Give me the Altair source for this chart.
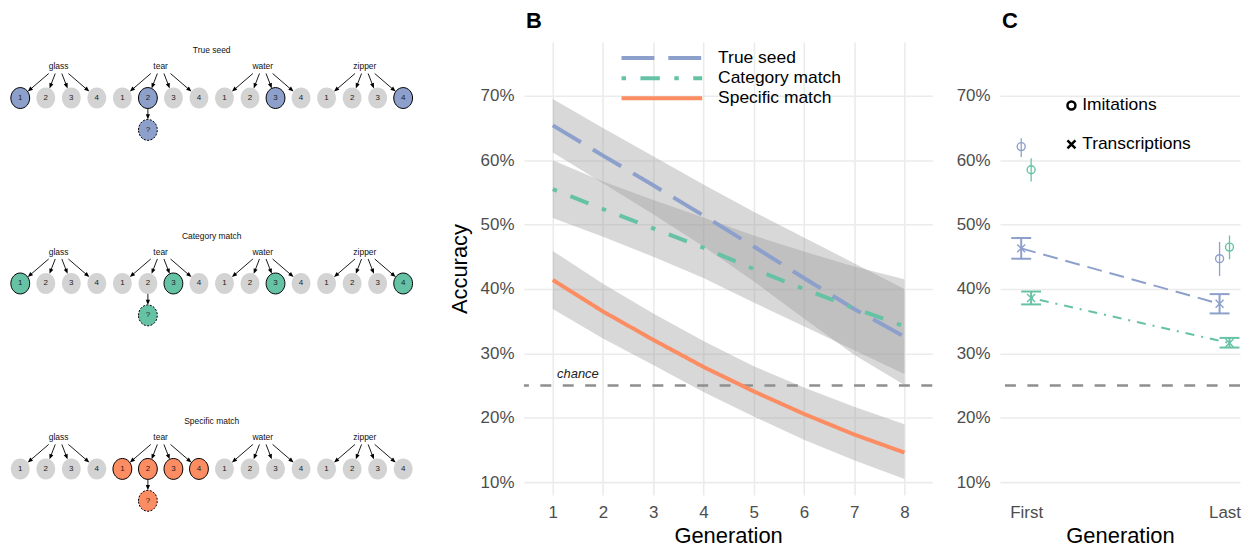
import math
import altair as alt
import pandas as pd

# ---------------- data: panel A (schematic) ----------------
panel_names = ["True seed", "Category match", "Specific match"]
seed_words = ["glass", "tear", "water", "zipper"]
choice_labels = ["1", "2", "3", "4"]
true_seed_picks = [(0, 0), (1, 1), (2, 2), (3, 3)]
category_picks = [(0, 0), (1, 2), (2, 2), (3, 3)]
specific_picks = [(1, 0), (1, 1), (1, 2), (1, 3)]
imitated_word = 1
imitated_choice = 1
question_label = "?"

# ---------------- data: panel B ----------------
generations = [1, 2, 3, 4, 5, 6, 7, 8]
true_seed_fit = [65.4, 60.7, 56.1, 51.4, 46.6, 41.7, 36.9, 32.6]
true_seed_lo = [61.2, 56.4, 51.6, 46.6, 41.2, 35.4, 29.8, 25.1]
true_seed_hi = [69.5, 65.0, 60.6, 56.2, 52.0, 48.0, 44.0, 40.0]
category_fit = [55.5, 52.4, 49.4, 46.4, 43.1, 40.0, 37.0, 34.2]
category_lo = [51.0, 48.1, 45.0, 41.7, 37.9, 34.2, 30.5, 26.8]
category_hi = [60.0, 56.7, 53.8, 51.1, 48.3, 45.8, 43.5, 41.5]
specific_fit = [41.4, 36.5, 32.1, 27.9, 24.1, 20.6, 17.4, 14.6]
specific_lo = [36.9, 32.3, 28.2, 24.0, 20.2, 16.6, 13.4, 10.5]
specific_hi = [45.9, 40.8, 36.2, 31.9, 28.0, 24.7, 21.7, 19.0]
chance_level = 25
chance_text = "chance"
chance_text_gen = 1.5
pct_ticks = [10, 20, 30, 40, 50, 60, 70]

# ---------------- data: panel C ----------------
c_gen = [1, 1, 2, 2]
c_series = ["True seed", "Category match", "True seed", "Category match"]
imit_mean = [62.1, 58.5, 44.7, 46.5]
imit_lo = [60.5, 56.7, 42.0, 44.6]
imit_hi = [63.4, 60.3, 47.3, 48.3]
trans_mean = [46.3, 38.6, 37.7, 31.6]
trans_lo = [44.7, 37.6, 36.2, 30.9]
trans_hi = [47.9, 39.6, 39.2, 32.4]
type_names = ["Imitations", "Transcriptions"]

# ---------------- styling / layout ----------------
FONT = "Liberation Sans"
series_colors = ["#8DA0CB", "#66C2A5", "#FC8D62"]
NODE_GRAY = "#D3D3D3"
PLOT_H = 455
A_W, B_W, C_W = 447, 410, 241
ELLIPSE = "M-0.9,0 A0.9,1 0 1,1 0.9,0 A0.9,1 0 1,1 -0.9,0 Z"
HEAD = "M0,-1 L-0.6,0.5 L0.6,0.5 Z"
XPATH = "M-1,-1 L1,1 M1,-1 L-1,1"
TITLE_OFFSET = -13

NODE_STEP = 25.63
X_START = -0.363
ROW_TOP = [8.3, 194.5, 380.7]
WORD_DY, NODE_DY, Q_DY = 16, 48, 80
RX, RY = 9.5, 10.5
ARROW_SPREAD = 6.6
ARROW_START_DY = 23.4
HEAD_HALF = 3.5


def ux_to_px(u):
    return (u - X_START) * NODE_STEP


def px_to_ux(p):
    return p / NODE_STEP + X_START


picks = {"True seed": true_seed_picks, "Category match": category_picks,
         "Specific match": specific_picks}

node_rows, q_rows, word_rows, title_rows, arrow_rows, head_rows = [], [], [], [], [], []


def add_arrow(sx, sy, tx, ty):
    dx, dy = tx - sx, ty - sy
    L = math.hypot(dx, dy)
    ux, uy = dx / L, dy / L
    hx, hy = tx - ux * HEAD_HALF, ty - uy * HEAD_HALF
    ang = math.degrees(math.atan2(ux, -uy)) % 360
    arrow_rows.append({"x": px_to_ux(sx), "y": sy, "x2": px_to_ux(hx), "y2": hy})
    head_rows.append({"x": px_to_ux(hx), "y": hy, "ang": ang})


for p, name in enumerate(panel_names):
    top = ROW_TOP[p]
    title_rows.append({"x": 7.5, "y": top, "text": name})
    for w, word in enumerate(seed_words):
        wx = 4 * w + 1.5
        word_rows.append({"x": wx, "y": top + WORD_DY, "text": word})
        for c, lab in enumerate(choice_labels):
            nx = 4 * w + c
            hl = (w, c) in picks[name]
            node_rows.append({"x": nx, "y": top + NODE_DY, "label": lab,
                              "status": name if hl else "none",
                              "hl": "yes" if hl else "no"})
            sx = ux_to_px(wx) + (c - 1.5) * ARROW_SPREAD
            sy = top + ARROW_START_DY
            cx, cy = ux_to_px(nx), top + NODE_DY
            vx, vy = sx - cx, sy - cy
            t = 1 / math.sqrt((vx / RX) ** 2 + (vy / RY) ** 2)
            add_arrow(sx, sy, cx + vx * t, cy + vy * t)
    qx = 4 * imitated_word + imitated_choice
    q_rows.append({"x": qx, "y": top + Q_DY, "label": question_label, "status": name})
    add_arrow(ux_to_px(qx), top + NODE_DY + RY, ux_to_px(qx), top + Q_DY - RY)

xA = alt.X("x:Q", scale=alt.Scale(domain=[X_START, px_to_ux(A_W)], nice=False, zero=False), axis=None)
yA = alt.Y("y:Q", scale=alt.Scale(domain=[0, PLOT_H], nice=False, zero=False, reverse=True), axis=None)
fillA = alt.Fill("status:N", scale=alt.Scale(domain=panel_names + ["none"], range=series_colors + [NODE_GRAY]), legend=None)

a_arrows = alt.Chart(pd.DataFrame(arrow_rows)).mark_rule(color="black", strokeWidth=0.9).encode(
    x=xA, y=yA, x2="x2:Q", y2="y2:Q")
a_heads = alt.Chart(pd.DataFrame(head_rows)).mark_point(
    shape=HEAD, size=(2 * HEAD_HALF) ** 2, filled=True, color="black", opacity=1, strokeWidth=0).encode(
    x=xA, y=yA, angle=alt.Angle("ang:Q", scale=None))
a_nodes = alt.Chart(pd.DataFrame(node_rows)).mark_point(
    shape=ELLIPSE, size=441, filled=True, opacity=1, stroke="black", strokeWidth=1).encode(
    x=xA, y=yA, fill=fillA,
    strokeOpacity=alt.StrokeOpacity("hl:N", scale=alt.Scale(domain=["yes", "no"], range=[1, 0]), legend=None))
a_q = alt.Chart(pd.DataFrame(q_rows)).mark_point(
    shape=ELLIPSE, size=441, filled=True, opacity=1, stroke="black", strokeWidth=1, strokeDash=[2, 1.5]).encode(
    x=xA, y=yA, fill=fillA)
a_node_text = alt.Chart(pd.DataFrame(node_rows + q_rows)).mark_text(
    font=FONT, fontSize=8, color="#222222").encode(x=xA, y=yA, text="label:N")
a_words = alt.Chart(pd.DataFrame(word_rows)).mark_text(
    font=FONT, fontSize=8.5, color="#111111").encode(x=xA, y=yA, text="text:N")
a_titles = alt.Chart(pd.DataFrame(title_rows)).mark_text(
    font=FONT, fontSize=8.5, color="#111111").encode(x=xA, y=yA, text="text:N")

panelA = alt.layer(a_arrows, a_heads, a_nodes, a_q, a_node_text, a_words, a_titles).properties(
    width=A_W, height=PLOT_H)

# ---------------- Panel B ----------------
b_rows = []
for name, fit, lo, hi in zip(panel_names,
                             [true_seed_fit, category_fit, specific_fit],
                             [true_seed_lo, category_lo, specific_lo],
                             [true_seed_hi, category_hi, specific_hi]):
    for g, f, l, h in zip(generations, fit, lo, hi):
        b_rows.append({"gen": g, "series": name, "fit": f, "lo": l, "hi": h})
b_df = pd.DataFrame(b_rows)

y_scale = alt.Scale(domain=[7.99, 78.35], nice=False, zero=False)
y_axis_B = alt.Axis(values=pct_ticks, labelExpr="datum.value + '%'", title="Accuracy", grid=True,
                    labelPadding=10, titlePadding=9)
xB = alt.X("gen:Q", scale=alt.Scale(domain=[0.425, 8.555], nice=False, zero=False),
           axis=alt.Axis(values=generations, format="d", title="Generation", grid=True,
                         labelPadding=9, titlePadding=6))

legB = alt.Legend(orient="none", legendX=96, legendY=7.7, title=None, symbolType="stroke",
                  symbolSize=6561, symbolStrokeWidth=4, clipHeight=17, rowPadding=2.2,
                  labelFontSize=17.5, labelColor="black", labelOffset=14, padding=0, labelFont=FONT)

b_ribbons = alt.Chart(b_df).mark_area(color="#999999", opacity=0.38).encode(
    x=xB, y=alt.Y("lo:Q", scale=y_scale, axis=y_axis_B), y2="hi:Q", detail="series:N")
b_lines = alt.Chart(b_df).mark_line(strokeWidth=4).encode(
    x=xB, y=alt.Y("fit:Q", scale=y_scale, axis=y_axis_B),
    color=alt.Color("series:N", scale=alt.Scale(domain=panel_names, range=series_colors), legend=legB),
    strokeDash=alt.StrokeDash("series:N", scale=alt.Scale(
        domain=panel_names, range=[[33, 14], [4.5, 14.5, 19.5, 14.5], [1, 0]]), legend=legB))
chance_df = pd.DataFrame({"level": [chance_level], "gen": [chance_text_gen], "text": [chance_text]})
b_chance = alt.Chart(chance_df).mark_rule(color="#8F8F8F", strokeWidth=2.5, strokeDash=[11, 11.5]).encode(
    y=alt.Y("level:Q", scale=y_scale, axis=y_axis_B))
b_chance_text = alt.Chart(chance_df).mark_text(
    font=FONT, fontSize=13, fontStyle="italic", color="#222222", dy=-12).encode(
    x=xB, y=alt.Y("level:Q", scale=y_scale, axis=y_axis_B), text="text:N")

panelB = alt.layer(b_ribbons, b_chance, b_lines, b_chance_text).properties(
    width=B_W, height=PLOT_H,
    title=alt.TitleParams("B", anchor="start", frame="group", fontSize=22, fontWeight="bold",
                          baseline="bottom", offset=TITLE_OFFSET, dx=2, font=FONT))

# ---------------- Panel C ----------------
DODGE = {"True seed": -0.025, "Category match": 0.025}
c_df = pd.DataFrame({"gen": c_gen, "series": c_series,
                     "imit_mean": imit_mean, "imit_lo": imit_lo, "imit_hi": imit_hi,
                     "trans_mean": trans_mean, "trans_lo": trans_lo, "trans_hi": trans_hi})
c_df["xd"] = c_df["gen"] + c_df["series"].map(DODGE)
pts_df = pd.concat([
    pd.DataFrame({"xd": c_df["xd"], "series": c_series, "type": type_names[0], "mean": imit_mean}),
    pd.DataFrame({"xd": c_df["xd"], "series": c_series, "type": type_names[1], "mean": trans_mean}),
], ignore_index=True)

y_axis_C = alt.Axis(values=pct_ticks, labelExpr="datum.value + '%'", title=None, grid=True, labelPadding=10)
xC = alt.X("xd:Q", scale=alt.Scale(domain=[0.868, 2.078], nice=False, zero=False),
           axis=alt.Axis(values=[1, 2], labelExpr="datum.value == 1 ? 'First' : 'Last'",
                         title="Generation", grid=False, labelPadding=9, titlePadding=6))
colC = alt.Color("series:N", scale=alt.Scale(domain=panel_names[:2], range=series_colors[:2]), legend=None)

legC = alt.Legend(orient="none", legendX=63, legendY=55, title=None, labelFontSize=17.5,
                  labelColor="black", symbolStrokeColor="black", symbolStrokeWidth=2.5,
                  symbolSize=64, rowPadding=20, labelOffset=2, padding=0, labelFont=FONT)

c_chance = alt.Chart(chance_df).mark_rule(color="#8F8F8F", strokeWidth=2.5, strokeDash=[11, 11.5]).encode(
    y=alt.Y("level:Q", scale=y_scale, axis=y_axis_C))
c_lines = alt.Chart(c_df).mark_line(strokeWidth=2).encode(
    x=xC, y=alt.Y("trans_mean:Q", scale=y_scale, axis=y_axis_C), color=colC,
    strokeDash=alt.StrokeDash("series:N", scale=alt.Scale(domain=panel_names[:2], range=[[15, 8], [2, 7, 9, 7]]),
                              legend=None))
c_imit_err = alt.Chart(c_df).mark_rule(strokeWidth=1.3).encode(
    x=xC, y=alt.Y("imit_lo:Q", scale=y_scale, axis=y_axis_C), y2="imit_hi:Q", color=colC)
c_trans_err = alt.Chart(c_df).mark_rule(strokeWidth=2).encode(
    x=xC, y=alt.Y("trans_lo:Q", scale=y_scale, axis=y_axis_C), y2="trans_hi:Q", color=colC)
c_cap_lo = alt.Chart(c_df).mark_tick(orient="horizontal", size=20, thickness=2, opacity=1).encode(
    x=xC, y=alt.Y("trans_lo:Q", scale=y_scale, axis=y_axis_C), color=colC)
c_cap_hi = alt.Chart(c_df).mark_tick(orient="horizontal", size=20, thickness=2, opacity=1).encode(
    x=xC, y=alt.Y("trans_hi:Q", scale=y_scale, axis=y_axis_C), color=colC)
c_points = alt.Chart(pts_df).mark_point(filled=False, strokeWidth=1.4, opacity=1, size=64).encode(
    x=xC, y=alt.Y("mean:Q", scale=y_scale, axis=y_axis_C), color=colC,
    shape=alt.Shape("type:N", scale=alt.Scale(domain=type_names, range=["circle", XPATH]), legend=legC))

panelC = alt.layer(c_chance, c_lines, c_imit_err, c_trans_err, c_cap_lo, c_cap_hi, c_points).properties(
    width=C_W, height=PLOT_H,
    title=alt.TitleParams("C", anchor="start", frame="group", fontSize=22, fontWeight="bold",
                          baseline="bottom", offset=TITLE_OFFSET, dx=2, font=FONT))

chart = alt.hconcat(panelA, panelB, panelC, spacing=68, bounds="flush").resolve_scale(
    x="independent", y="independent", color="independent", strokeDash="independent",
    shape="independent", fill="independent", strokeOpacity="independent"
).resolve_legend(
    color="independent", strokeDash="independent", shape="independent",
    fill="independent", strokeOpacity="independent"
).properties(
    padding={"left": 0, "top": 1, "right": 0, "bottom": 0}
).configure(font=FONT).configure_view(stroke=None).configure_axis(
    domain=False, ticks=False, labelFont=FONT, titleFont=FONT, labelFontSize=17, labelColor="#4D4D4D",
    titleFontSize=22, titleFontWeight="normal", titleColor="black", gridColor="#EBEBEB", gridWidth=1.6
)

chart.save("out.html", embed_options={"renderer": "svg", "actions": False})
